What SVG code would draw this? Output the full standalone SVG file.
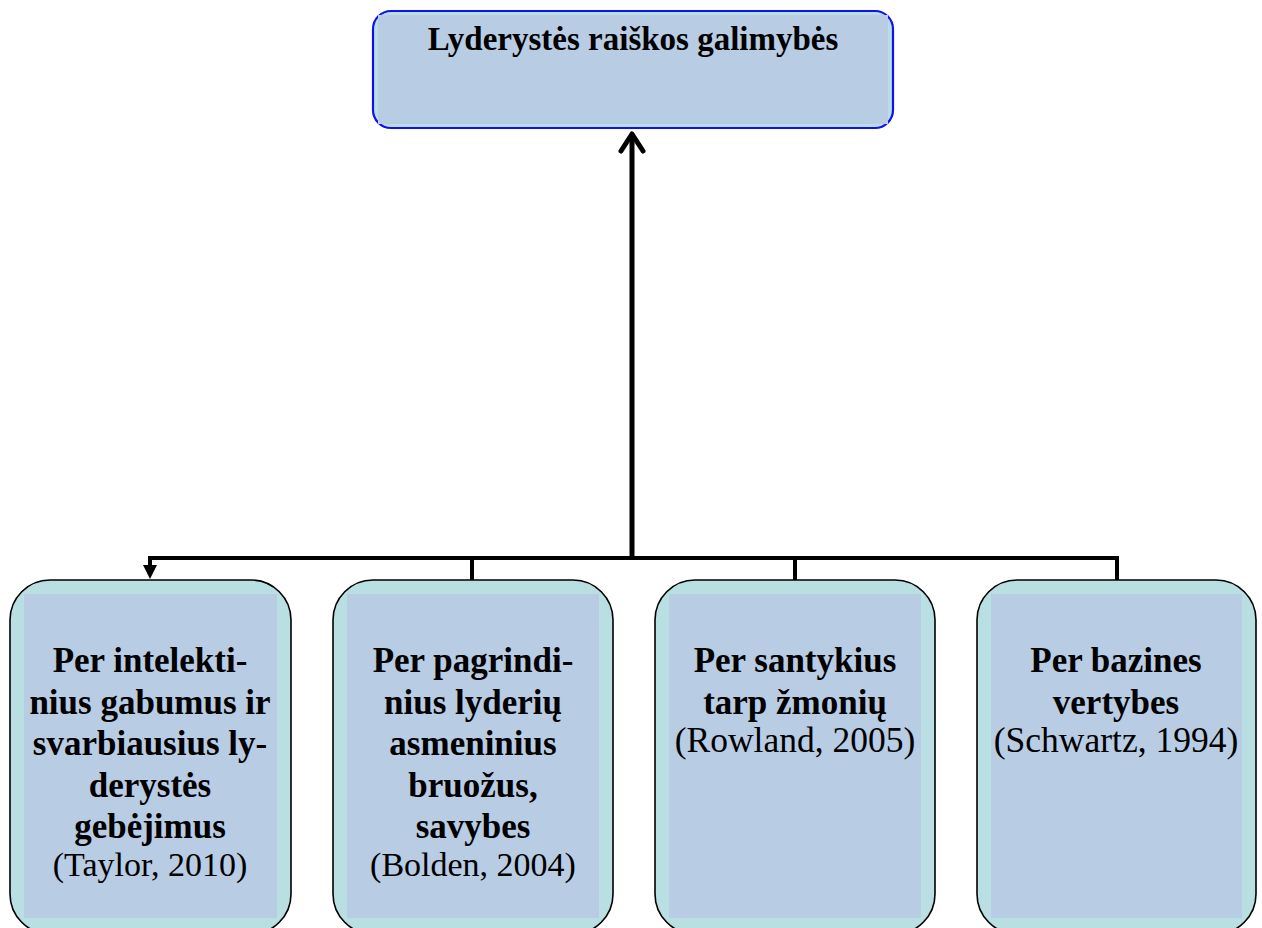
<svg xmlns="http://www.w3.org/2000/svg" width="1262" height="928" viewBox="0 0 1262 928">
<defs>
<style>
.outer{fill:#b9dfe2;stroke:#000;stroke-width:1.6}
.inner{fill:#b8cce4}
.b{font-family:"Liberation Serif","Times New Roman",serif;font-weight:bold;font-size:35px;text-anchor:middle;fill:#000}
.r{font-family:"Liberation Serif","Times New Roman",serif;font-size:34px;text-anchor:middle;fill:#000}
.ln{fill:none;stroke:#000;stroke-width:4}
</style>
</defs>
<rect width="1262" height="928" fill="#fff"/>
<g id="connectors">
<line class="ln" x1="632" y1="560" x2="632" y2="134" style="stroke-width:5"/>
<polyline points="621,151 632,134 643,151" fill="none" stroke="#000" stroke-width="5" stroke-linecap="round" stroke-linejoin="round"/>
<line class="ln" x1="148" y1="558" x2="1119" y2="558"/>
<line class="ln" x1="150" y1="556" x2="150" y2="566"/>
<polygon points="143,565 157,565 150,579" fill="#000"/>
<line class="ln" x1="472" y1="556" x2="472" y2="580"/>
<line class="ln" x1="795" y1="556" x2="795" y2="580"/>
<line class="ln" x1="1117" y1="556" x2="1117" y2="580"/>
</g>
<g id="top">
<rect x="373" y="11" width="520" height="117" rx="18" fill="#b9dfe2" stroke="#1010f0" stroke-width="2.2"/>
<rect x="378" y="15" width="510" height="109" fill="#b8cce4"/>
<text class="b" x="633" y="50" style="font-size:33px">Lyderystės raiškos galimybės</text>
</g>
<g id="n1">
<rect class="outer" x="10" y="580" width="281" height="354" rx="40"/>
<rect class="inner" x="24" y="594" width="253" height="324"/>
<text class="b" x="150" y="672">Per intelekti-</text>
<text class="b" x="150" y="714">nius gabumus ir</text>
<text class="b" x="150" y="755">svarbiausius ly-</text>
<text class="b" x="150" y="797">derystės</text>
<text class="b" x="150" y="838">gebėjimus</text>
<text class="r" x="150" y="876">(Taylor, 2010)</text>
</g>
<g id="n2">
<rect class="outer" x="333" y="580" width="280" height="354" rx="40"/>
<rect class="inner" x="347" y="594" width="252" height="324"/>
<text class="b" x="473" y="672">Per pagrindi-</text>
<text class="b" x="473" y="714">nius lyderių</text>
<text class="b" x="473" y="755">asmeninius</text>
<text class="b" x="473" y="797">bruožus,</text>
<text class="b" x="473" y="838">savybes</text>
<text class="r" x="473" y="876">(Bolden, 2004)</text>
</g>
<g id="n3">
<rect class="outer" x="655" y="580" width="280" height="354" rx="40"/>
<rect class="inner" x="669" y="594" width="252" height="324"/>
<text class="b" x="795" y="672">Per santykius</text>
<text class="b" x="795" y="714">tarp žmonių</text>
<text class="r" x="795" y="752" style="font-size:35.5px">(Rowland, 2005)</text>
</g>
<g id="n4">
<rect class="outer" x="977" y="580" width="279" height="354" rx="40"/>
<rect class="inner" x="991" y="594" width="251" height="324"/>
<text class="b" x="1116" y="672">Per bazines</text>
<text class="b" x="1116" y="714">vertybes</text>
<text class="r" x="1116" y="752" style="font-size:35.5px">(Schwartz, 1994)</text>
</g>
</svg>
